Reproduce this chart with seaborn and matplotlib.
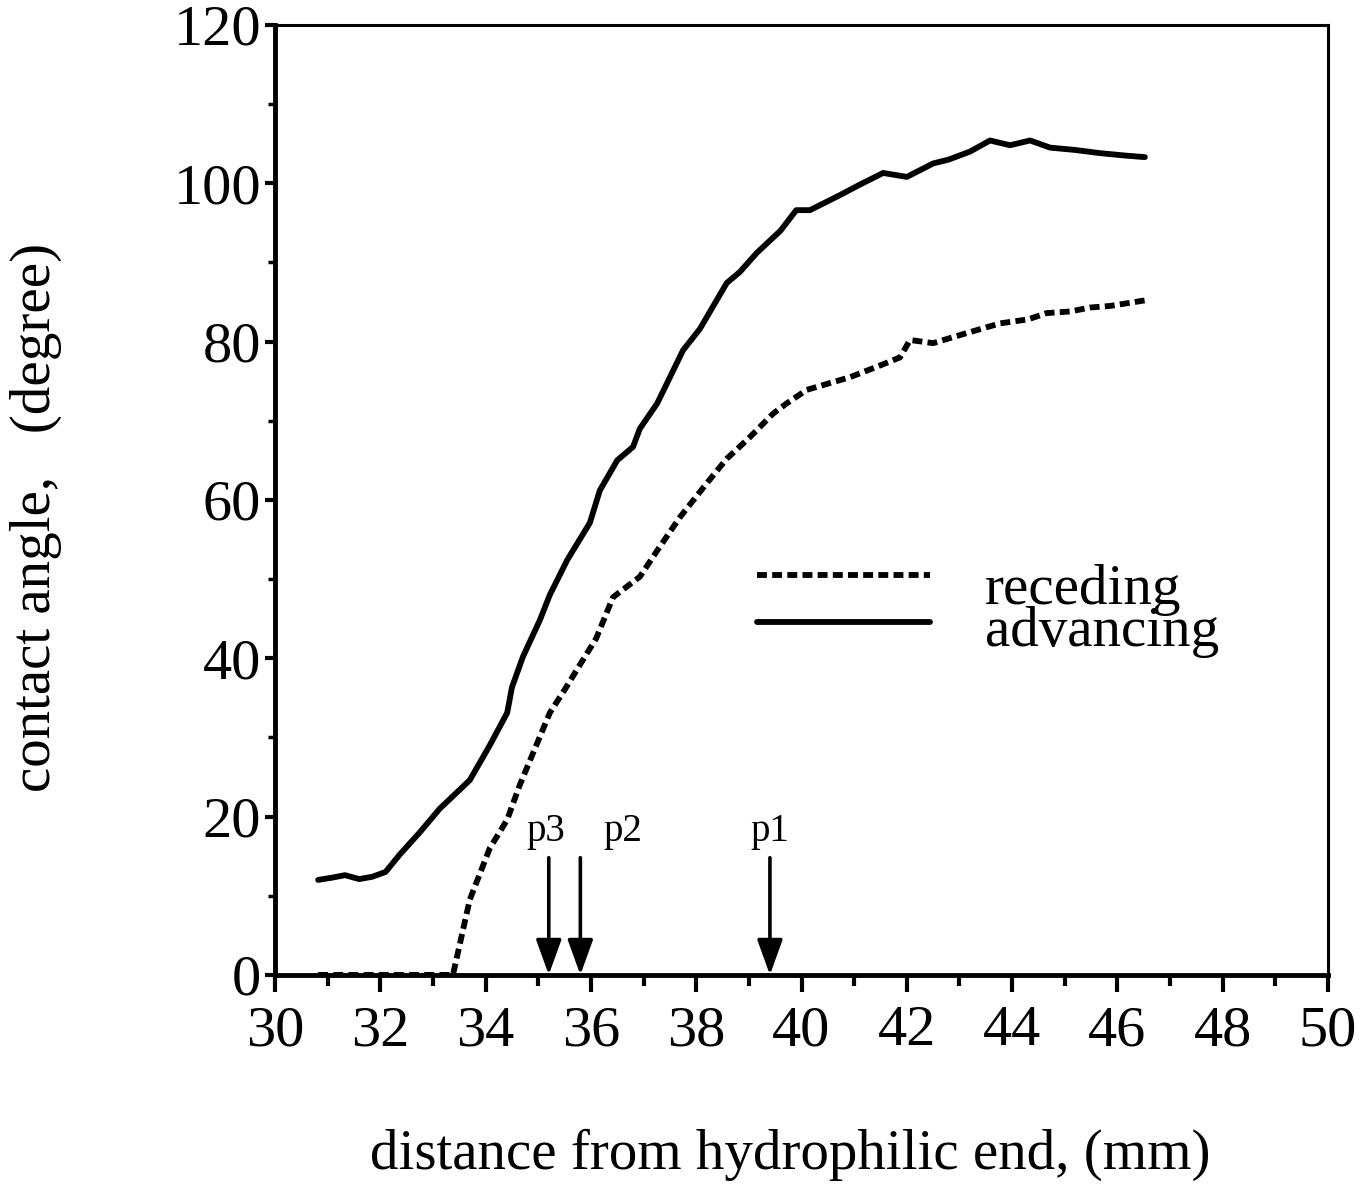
import numpy as np
import pandas as pd
import seaborn as sns
import matplotlib
matplotlib.use("Agg")
import matplotlib.pyplot as plt
from matplotlib.ticker import MultipleLocator
from matplotlib.lines import Line2D

# ---- data ----
adv_x = [30.82, 31.1, 31.33, 31.6, 31.85, 32.1, 32.37, 32.75, 33.13, 33.7, 34.08, 34.41, 34.5,
         34.71, 35.03, 35.22, 35.55, 35.98, 36.17, 36.5, 36.8, 36.93, 37.26, 37.75, 38.07, 38.58,
         38.83, 39.15, 39.6, 39.9, 40.16, 40.73, 41.1, 41.55, 42.0, 42.5, 42.8, 43.2, 43.58,
         43.96, 44.34, 44.72, 45.2, 45.67, 46.14, 46.52]
adv_y = [12.0, 12.3, 12.6, 12.1, 12.4, 13.0, 15.2, 18.0, 21.0, 24.6, 29.0, 33.1, 36.3,
         40.2, 44.8, 48.0, 52.4, 57.1, 61.2, 65.0, 66.7, 69.0, 72.2, 78.9, 81.6, 87.4,
         88.8, 91.2, 94.0, 96.6, 96.6, 98.5, 99.8, 101.3, 100.8, 102.5, 103.0, 104.0, 105.4,
         104.8, 105.4, 104.5, 104.2, 103.8, 103.5, 103.3]

rec_x = [30.82, 31.5, 32.2, 33.0, 33.38, 33.7, 34.08, 34.41, 34.65, 35.22, 35.5, 35.85, 36.1,
         36.42, 36.93, 37.3, 37.69, 38.2, 38.58, 39.0, 39.46, 39.72, 40.1, 40.92, 41.5,
         41.87, 42.06, 42.5, 43.1, 43.77, 44.3, 44.66, 45.1, 45.48, 45.86, 46.52]
rec_y = [0.0, 0.0, 0.0, 0.0, 0.0, 9.5, 16.0, 19.6, 24.0, 33.1, 36.0, 39.8, 42.5,
         47.7, 50.3, 54.0, 57.8, 62.1, 65.2, 67.8, 70.9, 72.2, 73.9, 75.5, 77.0,
         78.0, 80.2, 79.8, 81.0, 82.3, 82.8, 83.6, 83.8, 84.3, 84.5, 85.2]

arrow_labels = ["p3", "p2", "p1"]
arrow_x = [35.2, 35.8, 39.4]
arrow_label_x = [35.15, 36.61, 39.4]

series_labels = ["receding", "advancing"]
x_label = "distance from hydrophilic end, (mm)"
y_label = "contact angle,   (degree)"

# ---- plot ----
sns.set_theme(style="ticks")
plt.rcParams['font.family'] = ['Liberation Serif', 'DejaVu Serif']
plt.rcParams['text.color'] = 'black'
plt.rcParams['axes.labelcolor'] = 'black'

fig = plt.figure(figsize=(13.72, 11.86), dpi=100)
ax = fig.add_axes([0.2004, 0.178, 0.7676, 0.801])

df_adv = pd.DataFrame({"x": adv_x, "y": adv_y})
df_rec = pd.DataFrame({"x": rec_x, "y": rec_y})

LW = 4.2
DASH = (0, (1.7, 0.9))
sns.lineplot(data=df_adv, x="x", y="y", ax=ax, color="black", lw=LW, sort=False,
             estimator=None)
sns.lineplot(data=df_rec, x="x", y="y", ax=ax, color="black", lw=LW, sort=False,
             estimator=None, linestyle=DASH)

for lab, xv, lx in zip(arrow_labels, arrow_x, arrow_label_x):
    ax.annotate("", xy=(xv, 0), xytext=(xv, 14.8),
                arrowprops=dict(arrowstyle="-|>,head_length=1.8,head_width=0.65",
                                color="black", lw=2.6, shrinkA=0, shrinkB=0))
    ax.text(lx, 18.1, lab, ha="center", va="center", fontsize=28)

ax.set_xlim(30, 50)
ax.set_ylim(0, 120)
ax.xaxis.set_major_locator(MultipleLocator(2))
ax.xaxis.set_minor_locator(MultipleLocator(1))
ax.yaxis.set_major_locator(MultipleLocator(20))
ax.yaxis.set_minor_locator(MultipleLocator(10))
ax.tick_params(axis="both", which="major", direction="out", width=3,
               labelsize=42, color="black", labelcolor="black")
ax.tick_params(axis="x", which="major", length=12, pad=10)
ax.tick_params(axis="y", which="major", length=7, pad=3)
ax.tick_params(axis="x", which="minor", direction="out", length=8, width=3, color="black")
ax.tick_params(axis="y", which="minor", direction="out", length=5, width=2.5, color="black")
for s in ax.spines.values():
    s.set_color("black")
ax.spines["left"].set_linewidth(3.5)
ax.spines["bottom"].set_linewidth(3.5)
ax.spines["top"].set_linewidth(2.2)
ax.spines["right"].set_linewidth(2.2)

ax.set_xlabel(x_label, fontsize=41)
ax.set_ylabel(y_label, fontsize=41)
ax.xaxis.set_label_coords(0.489, -0.162)
ax.yaxis.set_label_coords(-0.202, 0.482)

# legend (keys + two-line label block)
ax.add_line(Line2D([0.4577, 0.622], [0.421, 0.421], transform=ax.transAxes,
                   color="black", lw=LW, linestyle=DASH))
ax.add_line(Line2D([0.4577, 0.622], [0.3716, 0.3716], transform=ax.transAxes,
                   color="black", lw=LW))
ax.text(0.674, 0.383, "\n".join(series_labels), transform=ax.transAxes,
        ha="left", va="center", fontsize=41, linespacing=0.75)

fig.savefig("out.png", dpi=100, facecolor="white")
